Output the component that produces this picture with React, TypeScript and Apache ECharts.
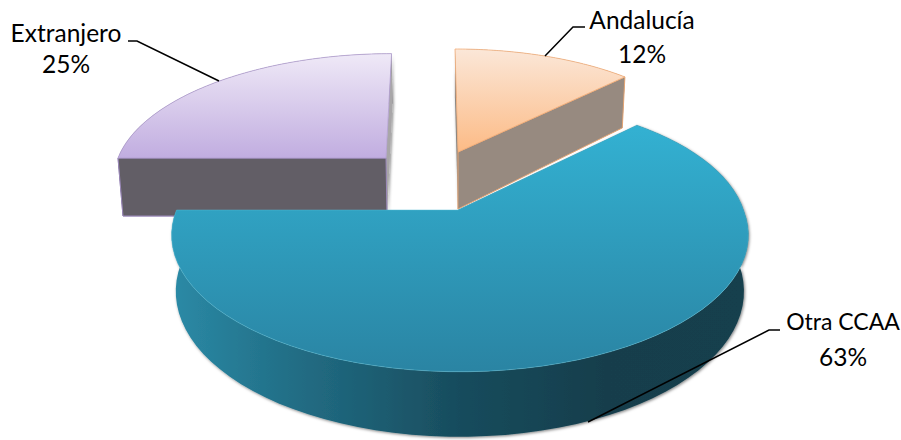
import React, { useEffect, useRef } from "react";
import * as echarts from "echarts";

const categories = ["Andalucía", "Otra CCAA", "Extranjero"];
const values = [12, 63, 25];
const drawOrder = [2, 0, 1];

const PLANES = [
  { ax: 458, x0: 458, y0: 152, R: 247, Ry: 103, k: 0, s: -3, D: 57 },
  { ax: 458, x0: 460, y0: 210, R: 283.5, Ry: 132, k: 0.184, s: 9, D: 54.6 },
  { ax: 386, x0: 386, y0: 158, R: 268, Ry: 120, k: 0.15, s: 6.4, D: 58 },
];
const TAPER_X = 451;
const TAPER = 0.985;

const FACES = [
  {
    top: ["#fbe7d8", "#fcbb86"],
    stroke: "#f3ad78",
    wallStart: "#8d8781",
    wallEnd: "#978a80",
    wallStroke: "#e5a574",
    arcWall: "#978a80",
  },
  {
    top: ["#33b1d2", "#2a84a3"],
    stroke: "rgba(85,188,212,0.6)",
    wallStart: "#1c5a6c",
    wallEnd: "#1c5a6c",
    wallStroke: "#4aa7bf",
    arcWall: null,
  },
  {
    top: ["#efe9f7", "#c1ade0"],
    stroke: "#b3a0d2",
    wallStart: "#625e66",
    wallEnd: "#a8a6a8",
    wallStroke: "#9c8aba",
    arcWall: "#625e66",
  },
];

const LABELS = [
  { cx: 642, y1: 19, y2: 53, size: 24.5, leader: [[585, 27], [573, 27], [545, 56]] },
  { cx: 843, y1: 321, y2: 356, size: 23, leader: [[780, 330], [769, 330], [588, 422]] },
  { cx: 66, y1: 32, y2: 63, size: 24.5, leader: [[128, 41], [137, 41], [219, 81]] },
];

const ARC_STEPS = 72;
const total = values.reduce((a, b) => a + b, 0);
const starts = values.map((_, i) => values.slice(0, i).reduce((a, b) => a + b, 0));

function project(p: any, theta: number, r: number, lowered: boolean): number[] {
  const u = r * Math.sin(theta);
  const v = r * Math.cos(theta);
  const w = 1 + p.k * v;
  let x = p.ax + (p.x0 - p.ax) * r + (p.R * u + p.s * Math.max(v, 0)) / w;
  let y = p.y0 - (p.Ry * v) / w;
  if (lowered) {
    x = TAPER_X + TAPER * (x - TAPER_X);
    y += p.D / (1 + 0.16 * v);
  }
  return [x, y];
}

function vertical(stops: string[]) {
  return {
    type: "linear",
    x: 0,
    y: 0,
    x2: 0,
    y2: 1,
    colorStops: [
      { offset: 0, color: stops[0] },
      { offset: 1, color: stops[1] },
    ],
  };
}

const mainWall = {
  type: "linear",
  x: 0,
  y: 0,
  x2: 1,
  y2: 0,
  colorStops: [
    { offset: 0, color: "#2b8aa6" },
    { offset: 0.2, color: "#226f87" },
    { offset: 0.5, color: "#184c5d" },
    { offset: 0.75, color: "#153e4c" },
    { offset: 1, color: "#163f4d" },
  ],
};

function renderSlice(_params: any, api: any) {
  const idx = api.value(2);
  const p = PLANES[idx];
  const f = FACES[idx];
  const a0 = (api.value(0) / total) * Math.PI * 2;
  const a1 = a0 + (api.value(1) / total) * Math.PI * 2;

  const arcTop: number[][] = [];
  const arcLow: number[][] = [];
  for (let i = 0; i <= ARC_STEPS; i++) {
    const t = a0 + ((a1 - a0) * i) / ARC_STEPS;
    arcTop.push(project(p, t, 1, false));
    arcLow.push(project(p, t, 1, true));
  }
  const apexTop = project(p, a0, 0, false);
  const apexLow = project(p, a0, 0, true);
  const shadow = { shadowBlur: 3, shadowColor: "rgba(0,0,0,0.5)", shadowOffsetX: 1, shadowOffsetY: 1 };

  const children: any[] = [
    {
      type: "polygon",
      shape: { points: [apexTop, arcTop[0], arcLow[0], apexLow] },
      style: { fill: f.wallStart, stroke: idx === 2 ? f.wallStroke : undefined, lineWidth: 1, ...(idx === 2 ? {} : shadow) },
    },
    {
      type: "polygon",
      shape: { points: [...arcTop, ...arcLow.slice().reverse()] },
      style: { fill: idx === 1 ? mainWall : f.arcWall, ...(idx === 1 ? shadow : {}) },
    },
    {
      type: "polygon",
      shape: { points: [apexTop, arcTop[ARC_STEPS], arcLow[ARC_STEPS], apexLow] },
      style: { fill: f.wallEnd, stroke: idx === 0 ? f.wallStroke : undefined, lineWidth: 1, ...(idx === 2 ? shadow : {}) },
    },
    {
      type: "polygon",
      shape: { points: [apexTop, ...arcTop] },
      style: { fill: vertical(f.top), stroke: f.stroke, lineWidth: 0.8 },
    },
  ];
  if (idx === 2) {
    children.splice(3, 0, {
      type: "polygon",
      shape: { points: [apexTop, arcTop[0], arcLow[0], apexLow] },
      style: { fill: f.wallStart, stroke: f.wallStroke, lineWidth: 1 },
    });
  }
  const l = LABELS[idx];
  children.push({
    type: "polyline",
    shape: { points: l.leader },
    style: { fill: "none", stroke: "#000", lineWidth: 1.5 },
  });
  children.push({
    type: "text",
    x: l.cx,
    y: l.y1,
    style: { text: categories[idx], font: `${l.size}px Lato`, fill: "#000", align: "center", verticalAlign: "middle" },
  });
  children.push({
    type: "text",
    x: l.cx,
    y: l.y2,
    style: { text: Math.round((values[idx] / total) * 100) + "%", font: "24.5px Lato", fill: "#000", align: "center", verticalAlign: "middle" },
  });
  return { type: "group", children };
}

export default function App() {
  const ref = useRef<HTMLDivElement>(null);
  useEffect(() => {
    document.body.style.margin = "0";
    const chart = echarts.init(ref.current!, undefined, { renderer: "svg" });
    chart.setOption({
      animation: false,
      backgroundColor: "#fff",
      series: [
        {
          type: "custom",
          coordinateSystem: "none",
          renderItem: renderSlice,
          silent: true,
          data: drawOrder.map((i) => ({ name: categories[i], value: [starts[i], values[i], i] })),
        },
      ],
    });
    return () => chart.dispose();
  }, []);
  return <div ref={ref} style={{ width: 901, height: 440 }} />;
}
